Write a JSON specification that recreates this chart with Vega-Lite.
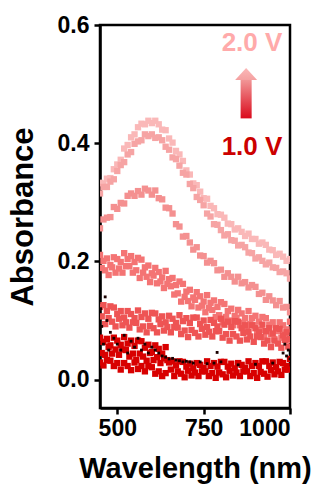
{
  "$schema": "https://vega.github.io/schema/vega-lite/v6.json",
  "width": 190,
  "height": 383,
  "autosize": {"type": "none"},
  "padding": {"left": 100, "top": 25, "right": 34, "bottom": 76},
  "background": "white",
  "config": {
    "view": {"stroke": "black", "strokeWidth": 2.5},
    "font": "Liberation Sans"
  },
  "datasets": {
    "spectra": [
      {"w":450,"a":0.333,"s":"2.0 V"},{"w":460,"a":0.332,"s":"2.0 V"},{"w":470,"a":0.340,"s":"2.0 V"},{"w":480,"a":0.341,"s":"2.0 V"},{"w":490,"a":0.356,"s":"2.0 V"},{"w":500,"a":0.364,"s":"2.0 V"},{"w":510,"a":0.372,"s":"2.0 V"},{"w":520,"a":0.391,"s":"2.0 V"},{"w":530,"a":0.397,"s":"2.0 V"},{"w":540,"a":0.410,"s":"2.0 V"},{"w":550,"a":0.415,"s":"2.0 V"},{"w":560,"a":0.427,"s":"2.0 V"},{"w":570,"a":0.433,"s":"2.0 V"},{"w":580,"a":0.432,"s":"2.0 V"},{"w":590,"a":0.438,"s":"2.0 V"},{"w":600,"a":0.434,"s":"2.0 V"},{"w":610,"a":0.438,"s":"2.0 V"},{"w":620,"a":0.432,"s":"2.0 V"},{"w":630,"a":0.423,"s":"2.0 V"},{"w":640,"a":0.422,"s":"2.0 V"},{"w":650,"a":0.408,"s":"2.0 V"},{"w":660,"a":0.401,"s":"2.0 V"},{"w":670,"a":0.387,"s":"2.0 V"},{"w":680,"a":0.381,"s":"2.0 V"},{"w":690,"a":0.370,"s":"2.0 V"},{"w":700,"a":0.354,"s":"2.0 V"},{"w":710,"a":0.347,"s":"2.0 V"},{"w":720,"a":0.332,"s":"2.0 V"},{"w":730,"a":0.329,"s":"2.0 V"},{"w":740,"a":0.318,"s":"2.0 V"},{"w":750,"a":0.307,"s":"2.0 V"},{"w":760,"a":0.306,"s":"2.0 V"},{"w":770,"a":0.294,"s":"2.0 V"},{"w":780,"a":0.290,"s":"2.0 V"},{"w":790,"a":0.280,"s":"2.0 V"},{"w":800,"a":0.279,"s":"2.0 V"},{"w":810,"a":0.274,"s":"2.0 V"},{"w":820,"a":0.264,"s":"2.0 V"},{"w":830,"a":0.263,"s":"2.0 V"},{"w":840,"a":0.254,"s":"2.0 V"},{"w":850,"a":0.256,"s":"2.0 V"},{"w":860,"a":0.250,"s":"2.0 V"},{"w":870,"a":0.243,"s":"2.0 V"},{"w":880,"a":0.247,"s":"2.0 V"},{"w":890,"a":0.238,"s":"2.0 V"},{"w":900,"a":0.238,"s":"2.0 V"},{"w":910,"a":0.230,"s":"2.0 V"},{"w":920,"a":0.232,"s":"2.0 V"},{"w":930,"a":0.228,"s":"2.0 V"},{"w":940,"a":0.220,"s":"2.0 V"},{"w":950,"a":0.219,"s":"2.0 V"},{"w":960,"a":0.211,"s":"2.0 V"},{"w":970,"a":0.213,"s":"2.0 V"},{"w":980,"a":0.208,"s":"2.0 V"},{"w":990,"a":0.201,"s":"2.0 V"},{"w":1000,"a":0.204,"s":"2.0 V"},

      {"w":450,"a":0.315,"s":"1.8 V"},{"w":460,"a":0.326,"s":"1.8 V"},{"w":470,"a":0.326,"s":"1.8 V"},{"w":480,"a":0.335,"s":"1.8 V"},{"w":490,"a":0.339,"s":"1.8 V"},{"w":500,"a":0.353,"s":"1.8 V"},{"w":510,"a":0.363,"s":"1.8 V"},{"w":520,"a":0.368,"s":"1.8 V"},{"w":530,"a":0.381,"s":"1.8 V"},{"w":540,"a":0.385,"s":"1.8 V"},{"w":550,"a":0.399,"s":"1.8 V"},{"w":560,"a":0.403,"s":"1.8 V"},{"w":570,"a":0.405,"s":"1.8 V"},{"w":580,"a":0.415,"s":"1.8 V"},{"w":590,"a":0.412,"s":"1.8 V"},{"w":600,"a":0.415,"s":"1.8 V"},{"w":610,"a":0.409,"s":"1.8 V"},{"w":620,"a":0.410,"s":"1.8 V"},{"w":630,"a":0.405,"s":"1.8 V"},{"w":640,"a":0.394,"s":"1.8 V"},{"w":650,"a":0.389,"s":"1.8 V"},{"w":660,"a":0.376,"s":"1.8 V"},{"w":670,"a":0.373,"s":"1.8 V"},{"w":680,"a":0.362,"s":"1.8 V"},{"w":690,"a":0.350,"s":"1.8 V"},{"w":700,"a":0.347,"s":"1.8 V"},{"w":710,"a":0.331,"s":"1.8 V"},{"w":720,"a":0.324,"s":"1.8 V"},{"w":730,"a":0.309,"s":"1.8 V"},{"w":740,"a":0.304,"s":"1.8 V"},{"w":750,"a":0.295,"s":"1.8 V"},{"w":760,"a":0.281,"s":"1.8 V"},{"w":770,"a":0.276,"s":"1.8 V"},{"w":780,"a":0.263,"s":"1.8 V"},{"w":790,"a":0.262,"s":"1.8 V"},{"w":800,"a":0.253,"s":"1.8 V"},{"w":810,"a":0.244,"s":"1.8 V"},{"w":820,"a":0.246,"s":"1.8 V"},{"w":830,"a":0.236,"s":"1.8 V"},{"w":840,"a":0.235,"s":"1.8 V"},{"w":850,"a":0.227,"s":"1.8 V"},{"w":860,"a":0.228,"s":"1.8 V"},{"w":870,"a":0.224,"s":"1.8 V"},{"w":880,"a":0.215,"s":"1.8 V"},{"w":890,"a":0.214,"s":"1.8 V"},{"w":900,"a":0.205,"s":"1.8 V"},{"w":910,"a":0.207,"s":"1.8 V"},{"w":920,"a":0.201,"s":"1.8 V"},{"w":930,"a":0.195,"s":"1.8 V"},{"w":940,"a":0.198,"s":"1.8 V"},{"w":950,"a":0.190,"s":"1.8 V"},{"w":960,"a":0.189,"s":"1.8 V"},{"w":970,"a":0.182,"s":"1.8 V"},{"w":980,"a":0.183,"s":"1.8 V"},{"w":990,"a":0.180,"s":"1.8 V"},{"w":1000,"a":0.171,"s":"1.8 V"},

      {"w":450,"a":0.256,"s":"1.6 V"},{"w":460,"a":0.271,"s":"1.6 V"},{"w":470,"a":0.274,"s":"1.6 V"},{"w":480,"a":0.275,"s":"1.6 V"},{"w":490,"a":0.292,"s":"1.6 V"},{"w":500,"a":0.289,"s":"1.6 V"},{"w":510,"a":0.299,"s":"1.6 V"},{"w":520,"a":0.298,"s":"1.6 V"},{"w":530,"a":0.311,"s":"1.6 V"},{"w":540,"a":0.315,"s":"1.6 V"},{"w":550,"a":0.311,"s":"1.6 V"},{"w":560,"a":0.319,"s":"1.6 V"},{"w":570,"a":0.313,"s":"1.6 V"},{"w":580,"a":0.323,"s":"1.6 V"},{"w":590,"a":0.320,"s":"1.6 V"},{"w":600,"a":0.313,"s":"1.6 V"},{"w":610,"a":0.320,"s":"1.6 V"},{"w":620,"a":0.307,"s":"1.6 V"},{"w":630,"a":0.305,"s":"1.6 V"},{"w":640,"a":0.291,"s":"1.6 V"},{"w":650,"a":0.290,"s":"1.6 V"},{"w":660,"a":0.281,"s":"1.6 V"},{"w":670,"a":0.263,"s":"1.6 V"},{"w":680,"a":0.259,"s":"1.6 V"},{"w":690,"a":0.242,"s":"1.6 V"},{"w":700,"a":0.243,"s":"1.6 V"},{"w":710,"a":0.232,"s":"1.6 V"},{"w":720,"a":0.220,"s":"1.6 V"},{"w":730,"a":0.224,"s":"1.6 V"},{"w":740,"a":0.210,"s":"1.6 V"},{"w":750,"a":0.209,"s":"1.6 V"},{"w":760,"a":0.198,"s":"1.6 V"},{"w":770,"a":0.201,"s":"1.6 V"},{"w":780,"a":0.197,"s":"1.6 V"},{"w":790,"a":0.185,"s":"1.6 V"},{"w":800,"a":0.186,"s":"1.6 V"},{"w":810,"a":0.174,"s":"1.6 V"},{"w":820,"a":0.180,"s":"1.6 V"},{"w":830,"a":0.174,"s":"1.6 V"},{"w":840,"a":0.166,"s":"1.6 V"},{"w":850,"a":0.174,"s":"1.6 V"},{"w":860,"a":0.163,"s":"1.6 V"},{"w":870,"a":0.165,"s":"1.6 V"},{"w":880,"a":0.156,"s":"1.6 V"},{"w":890,"a":0.160,"s":"1.6 V"},{"w":900,"a":0.157,"s":"1.6 V"},{"w":910,"a":0.145,"s":"1.6 V"},{"w":920,"a":0.147,"s":"1.6 V"},{"w":930,"a":0.135,"s":"1.6 V"},{"w":940,"a":0.141,"s":"1.6 V"},{"w":950,"a":0.134,"s":"1.6 V"},{"w":960,"a":0.126,"s":"1.6 V"},{"w":970,"a":0.133,"s":"1.6 V"},{"w":980,"a":0.122,"s":"1.6 V"},{"w":990,"a":0.123,"s":"1.6 V"},{"w":1000,"a":0.114,"s":"1.6 V"},

      {"w":450,"a":0.211,"s":"1.4 V"},{"w":460,"a":0.201,"s":"1.4 V"},{"w":470,"a":0.205,"s":"1.4 V"},{"w":480,"a":0.194,"s":"1.4 V"},{"w":490,"a":0.207,"s":"1.4 V"},{"w":500,"a":0.204,"s":"1.4 V"},{"w":510,"a":0.199,"s":"1.4 V"},{"w":520,"a":0.214,"s":"1.4 V"},{"w":530,"a":0.204,"s":"1.4 V"},{"w":540,"a":0.209,"s":"1.4 V"},{"w":550,"a":0.199,"s":"1.4 V"},{"w":560,"a":0.206,"s":"1.4 V"},{"w":570,"a":0.203,"s":"1.4 V"},{"w":580,"a":0.190,"s":"1.4 V"},{"w":590,"a":0.193,"s":"1.4 V"},{"w":600,"a":0.180,"s":"1.4 V"},{"w":610,"a":0.189,"s":"1.4 V"},{"w":620,"a":0.182,"s":"1.4 V"},{"w":630,"a":0.173,"s":"1.4 V"},{"w":640,"a":0.184,"s":"1.4 V"},{"w":650,"a":0.170,"s":"1.4 V"},{"w":660,"a":0.172,"s":"1.4 V"},{"w":670,"a":0.160,"s":"1.4 V"},{"w":680,"a":0.166,"s":"1.4 V"},{"w":690,"a":0.162,"s":"1.4 V"},{"w":700,"a":0.149,"s":"1.4 V"},{"w":710,"a":0.152,"s":"1.4 V"},{"w":720,"a":0.139,"s":"1.4 V"},{"w":730,"a":0.148,"s":"1.4 V"},{"w":740,"a":0.141,"s":"1.4 V"},{"w":750,"a":0.132,"s":"1.4 V"},{"w":760,"a":0.143,"s":"1.4 V"},{"w":770,"a":0.130,"s":"1.4 V"},{"w":780,"a":0.134,"s":"1.4 V"},{"w":790,"a":0.123,"s":"1.4 V"},{"w":800,"a":0.131,"s":"1.4 V"},{"w":810,"a":0.128,"s":"1.4 V"},{"w":820,"a":0.116,"s":"1.4 V"},{"w":830,"a":0.120,"s":"1.4 V"},{"w":840,"a":0.108,"s":"1.4 V"},{"w":850,"a":0.118,"s":"1.4 V"},{"w":860,"a":0.112,"s":"1.4 V"},{"w":870,"a":0.104,"s":"1.4 V"},{"w":880,"a":0.116,"s":"1.4 V"},{"w":890,"a":0.104,"s":"1.4 V"},{"w":900,"a":0.108,"s":"1.4 V"},{"w":910,"a":0.098,"s":"1.4 V"},{"w":920,"a":0.106,"s":"1.4 V"},{"w":930,"a":0.104,"s":"1.4 V"},{"w":940,"a":0.093,"s":"1.4 V"},{"w":950,"a":0.097,"s":"1.4 V"},{"w":960,"a":0.086,"s":"1.4 V"},{"w":970,"a":0.097,"s":"1.4 V"},{"w":980,"a":0.092,"s":"1.4 V"},{"w":990,"a":0.085,"s":"1.4 V"},{"w":1000,"a":0.098,"s":"1.4 V"},
      {"w":455,"a":0.189,"s":"1.4 V"},{"w":465,"a":0.185,"s":"1.4 V"},{"w":475,"a":0.177,"s":"1.4 V"},{"w":485,"a":0.190,"s":"1.4 V"},{"w":495,"a":0.181,"s":"1.4 V"},{"w":505,"a":0.188,"s":"1.4 V"},{"w":515,"a":0.181,"s":"1.4 V"},{"w":525,"a":0.192,"s":"1.4 V"},{"w":535,"a":0.192,"s":"1.4 V"},{"w":545,"a":0.181,"s":"1.4 V"},{"w":555,"a":0.185,"s":"1.4 V"},{"w":565,"a":0.172,"s":"1.4 V"},{"w":575,"a":0.181,"s":"1.4 V"},{"w":585,"a":0.174,"s":"1.4 V"},{"w":595,"a":0.165,"s":"1.4 V"},{"w":605,"a":0.176,"s":"1.4 V"},{"w":615,"a":0.163,"s":"1.4 V"},{"w":625,"a":0.166,"s":"1.4 V"},{"w":635,"a":0.155,"s":"1.4 V"},{"w":645,"a":0.162,"s":"1.4 V"},{"w":655,"a":0.158,"s":"1.4 V"},{"w":665,"a":0.144,"s":"1.4 V"},{"w":675,"a":0.146,"s":"1.4 V"},{"w":685,"a":0.132,"s":"1.4 V"},{"w":695,"a":0.140,"s":"1.4 V"},{"w":705,"a":0.133,"s":"1.4 V"},{"w":715,"a":0.124,"s":"1.4 V"},{"w":725,"a":0.135,"s":"1.4 V"},{"w":735,"a":0.122,"s":"1.4 V"},{"w":745,"a":0.125,"s":"1.4 V"},{"w":755,"a":0.114,"s":"1.4 V"},{"w":765,"a":0.121,"s":"1.4 V"},{"w":775,"a":0.118,"s":"1.4 V"},{"w":785,"a":0.106,"s":"1.4 V"},{"w":795,"a":0.109,"s":"1.4 V"},{"w":805,"a":0.097,"s":"1.4 V"},{"w":815,"a":0.106,"s":"1.4 V"},{"w":825,"a":0.100,"s":"1.4 V"},{"w":835,"a":0.092,"s":"1.4 V"},{"w":845,"a":0.104,"s":"1.4 V"},{"w":855,"a":0.092,"s":"1.4 V"},{"w":865,"a":0.096,"s":"1.4 V"},{"w":875,"a":0.086,"s":"1.4 V"},{"w":885,"a":0.094,"s":"1.4 V"},{"w":895,"a":0.092,"s":"1.4 V"},{"w":905,"a":0.080,"s":"1.4 V"},{"w":915,"a":0.084,"s":"1.4 V"},{"w":925,"a":0.072,"s":"1.4 V"},{"w":935,"a":0.082,"s":"1.4 V"},{"w":945,"a":0.077,"s":"1.4 V"},{"w":955,"a":0.069,"s":"1.4 V"},{"w":965,"a":0.082,"s":"1.4 V"},{"w":975,"a":0.071,"s":"1.4 V"},{"w":985,"a":0.076,"s":"1.4 V"},{"w":995,"a":0.067,"s":"1.4 V"},

      {"w":450,"a":0.123,"s":"1.2 V"},{"w":460,"a":0.126,"s":"1.2 V"},{"w":470,"a":0.116,"s":"1.2 V"},{"w":480,"a":0.124,"s":"1.2 V"},{"w":490,"a":0.122,"s":"1.2 V"},{"w":500,"a":0.111,"s":"1.2 V"},{"w":510,"a":0.116,"s":"1.2 V"},{"w":520,"a":0.105,"s":"1.2 V"},{"w":530,"a":0.116,"s":"1.2 V"},{"w":540,"a":0.111,"s":"1.2 V"},{"w":550,"a":0.104,"s":"1.2 V"},{"w":560,"a":0.117,"s":"1.2 V"},{"w":570,"a":0.106,"s":"1.2 V"},{"w":580,"a":0.112,"s":"1.2 V"},{"w":590,"a":0.103,"s":"1.2 V"},{"w":600,"a":0.113,"s":"1.2 V"},{"w":610,"a":0.112,"s":"1.2 V"},{"w":620,"a":0.102,"s":"1.2 V"},{"w":630,"a":0.107,"s":"1.2 V"},{"w":640,"a":0.097,"s":"1.2 V"},{"w":650,"a":0.108,"s":"1.2 V"},{"w":660,"a":0.103,"s":"1.2 V"},{"w":670,"a":0.096,"s":"1.2 V"},{"w":680,"a":0.109,"s":"1.2 V"},{"w":690,"a":0.099,"s":"1.2 V"},{"w":700,"a":0.104,"s":"1.2 V"},{"w":710,"a":0.096,"s":"1.2 V"},{"w":720,"a":0.105,"s":"1.2 V"},{"w":730,"a":0.105,"s":"1.2 V"},{"w":740,"a":0.094,"s":"1.2 V"},{"w":750,"a":0.100,"s":"1.2 V"},{"w":760,"a":0.089,"s":"1.2 V"},{"w":770,"a":0.101,"s":"1.2 V"},{"w":780,"a":0.096,"s":"1.2 V"},{"w":790,"a":0.090,"s":"1.2 V"},{"w":800,"a":0.103,"s":"1.2 V"},{"w":810,"a":0.093,"s":"1.2 V"},{"w":820,"a":0.098,"s":"1.2 V"},{"w":830,"a":0.089,"s":"1.2 V"},{"w":840,"a":0.099,"s":"1.2 V"},{"w":850,"a":0.098,"s":"1.2 V"},{"w":860,"a":0.087,"s":"1.2 V"},{"w":870,"a":0.092,"s":"1.2 V"},{"w":880,"a":0.081,"s":"1.2 V"},{"w":890,"a":0.092,"s":"1.2 V"},{"w":900,"a":0.087,"s":"1.2 V"},{"w":910,"a":0.080,"s":"1.2 V"},{"w":920,"a":0.093,"s":"1.2 V"},{"w":930,"a":0.082,"s":"1.2 V"},{"w":940,"a":0.087,"s":"1.2 V"},{"w":950,"a":0.078,"s":"1.2 V"},{"w":960,"a":0.087,"s":"1.2 V"},{"w":970,"a":0.086,"s":"1.2 V"},{"w":980,"a":0.075,"s":"1.2 V"},{"w":990,"a":0.080,"s":"1.2 V"},{"w":1000,"a":0.069,"s":"1.2 V"},
      {"w":455,"a":0.107,"s":"1.2 V"},{"w":465,"a":0.094,"s":"1.2 V"},{"w":475,"a":0.104,"s":"1.2 V"},{"w":485,"a":0.098,"s":"1.2 V"},{"w":495,"a":0.090,"s":"1.2 V"},{"w":505,"a":0.103,"s":"1.2 V"},{"w":515,"a":0.092,"s":"1.2 V"},{"w":525,"a":0.097,"s":"1.2 V"},{"w":535,"a":0.088,"s":"1.2 V"},{"w":545,"a":0.097,"s":"1.2 V"},{"w":555,"a":0.096,"s":"1.2 V"},{"w":565,"a":0.085,"s":"1.2 V"},{"w":575,"a":0.090,"s":"1.2 V"},{"w":585,"a":0.080,"s":"1.2 V"},{"w":595,"a":0.091,"s":"1.2 V"},{"w":605,"a":0.087,"s":"1.2 V"},{"w":615,"a":0.080,"s":"1.2 V"},{"w":625,"a":0.094,"s":"1.2 V"},{"w":635,"a":0.083,"s":"1.2 V"},{"w":645,"a":0.089,"s":"1.2 V"},{"w":655,"a":0.080,"s":"1.2 V"},{"w":665,"a":0.089,"s":"1.2 V"},{"w":675,"a":0.088,"s":"1.2 V"},{"w":685,"a":0.077,"s":"1.2 V"},{"w":695,"a":0.083,"s":"1.2 V"},{"w":705,"a":0.072,"s":"1.2 V"},{"w":715,"a":0.084,"s":"1.2 V"},{"w":725,"a":0.079,"s":"1.2 V"},{"w":735,"a":0.073,"s":"1.2 V"},{"w":745,"a":0.086,"s":"1.2 V"},{"w":755,"a":0.076,"s":"1.2 V"},{"w":765,"a":0.081,"s":"1.2 V"},{"w":775,"a":0.073,"s":"1.2 V"},{"w":785,"a":0.082,"s":"1.2 V"},{"w":795,"a":0.082,"s":"1.2 V"},{"w":805,"a":0.071,"s":"1.2 V"},{"w":815,"a":0.077,"s":"1.2 V"},{"w":825,"a":0.066,"s":"1.2 V"},{"w":835,"a":0.077,"s":"1.2 V"},{"w":845,"a":0.073,"s":"1.2 V"},{"w":855,"a":0.066,"s":"1.2 V"},{"w":865,"a":0.079,"s":"1.2 V"},{"w":875,"a":0.068,"s":"1.2 V"},{"w":885,"a":0.073,"s":"1.2 V"},{"w":895,"a":0.064,"s":"1.2 V"},{"w":905,"a":0.073,"s":"1.2 V"},{"w":915,"a":0.072,"s":"1.2 V"},{"w":925,"a":0.061,"s":"1.2 V"},{"w":935,"a":0.066,"s":"1.2 V"},{"w":945,"a":0.055,"s":"1.2 V"},{"w":955,"a":0.066,"s":"1.2 V"},{"w":965,"a":0.061,"s":"1.2 V"},{"w":975,"a":0.054,"s":"1.2 V"},{"w":985,"a":0.067,"s":"1.2 V"},{"w":995,"a":0.056,"s":"1.2 V"},

      {"w":450,"a":0.071,"s":"1.0 V"},{"w":460,"a":0.064,"s":"1.0 V"},{"w":470,"a":0.069,"s":"1.0 V"},{"w":480,"a":0.058,"s":"1.0 V"},{"w":490,"a":0.071,"s":"1.0 V"},{"w":500,"a":0.066,"s":"1.0 V"},{"w":510,"a":0.059,"s":"1.0 V"},{"w":520,"a":0.072,"s":"1.0 V"},{"w":530,"a":0.061,"s":"1.0 V"},{"w":540,"a":0.066,"s":"1.0 V"},{"w":550,"a":0.057,"s":"1.0 V"},{"w":560,"a":0.066,"s":"1.0 V"},{"w":570,"a":0.065,"s":"1.0 V"},{"w":580,"a":0.054,"s":"1.0 V"},{"w":590,"a":0.059,"s":"1.0 V"},{"w":600,"a":0.047,"s":"1.0 V"},{"w":610,"a":0.058,"s":"1.0 V"},{"w":620,"a":0.052,"s":"1.0 V"},{"w":630,"a":0.044,"s":"1.0 V"},{"w":640,"a":0.055,"s":"1.0 V"},
      {"w":455,"a":0.045,"s":"1.0 V"},{"w":465,"a":0.042,"s":"1.0 V"},{"w":475,"a":0.055,"s":"1.0 V"},{"w":485,"a":0.044,"s":"1.0 V"},{"w":495,"a":0.051,"s":"1.0 V"},{"w":505,"a":0.042,"s":"1.0 V"},{"w":515,"a":0.051,"s":"1.0 V"},{"w":525,"a":0.050,"s":"1.0 V"},{"w":535,"a":0.039,"s":"1.0 V"},{"w":545,"a":0.044,"s":"1.0 V"},{"w":555,"a":0.033,"s":"1.0 V"},{"w":565,"a":0.044,"s":"1.0 V"},{"w":575,"a":0.039,"s":"1.0 V"},{"w":585,"a":0.032,"s":"1.0 V"},{"w":595,"a":0.045,"s":"1.0 V"},{"w":605,"a":0.033,"s":"1.0 V"},{"w":615,"a":0.038,"s":"1.0 V"},{"w":625,"a":0.028,"s":"1.0 V"},{"w":635,"a":0.036,"s":"1.0 V"},{"w":645,"a":0.033,"s":"1.0 V"},
      {"w":450,"a":0.029,"s":"1.0 V"},{"w":460,"a":0.024,"s":"1.0 V"},{"w":470,"a":0.033,"s":"1.0 V"},{"w":480,"a":0.032,"s":"1.0 V"},{"w":490,"a":0.023,"s":"1.0 V"},{"w":500,"a":0.028,"s":"1.0 V"},{"w":510,"a":0.017,"s":"1.0 V"},{"w":520,"a":0.028,"s":"1.0 V"},{"w":530,"a":0.023,"s":"1.0 V"},{"w":540,"a":0.016,"s":"1.0 V"},{"w":550,"a":0.029,"s":"1.0 V"},{"w":560,"a":0.018,"s":"1.0 V"},{"w":570,"a":0.023,"s":"1.0 V"},{"w":580,"a":0.014,"s":"1.0 V"},{"w":590,"a":0.023,"s":"1.0 V"},{"w":600,"a":0.021,"s":"1.0 V"},{"w":610,"a":0.010,"s":"1.0 V"},{"w":620,"a":0.014,"s":"1.0 V"},{"w":630,"a":0.006,"s":"1.0 V"},{"w":640,"a":0.011,"s":"1.0 V"},
      {"w":650,"a":0.029,"s":"1.0 V"},{"w":660,"a":0.031,"s":"1.0 V"},{"w":670,"a":0.024,"s":"1.0 V"},{"w":680,"a":0.031,"s":"1.0 V"},{"w":690,"a":0.030,"s":"1.0 V"},{"w":700,"a":0.022,"s":"1.0 V"},{"w":710,"a":0.027,"s":"1.0 V"},{"w":720,"a":0.019,"s":"1.0 V"},{"w":730,"a":0.028,"s":"1.0 V"},{"w":740,"a":0.025,"s":"1.0 V"},{"w":750,"a":0.020,"s":"1.0 V"},{"w":760,"a":0.031,"s":"1.0 V"},{"w":770,"a":0.023,"s":"1.0 V"},{"w":780,"a":0.028,"s":"1.0 V"},{"w":790,"a":0.022,"s":"1.0 V"},{"w":800,"a":0.030,"s":"1.0 V"},{"w":810,"a":0.030,"s":"1.0 V"},{"w":820,"a":0.022,"s":"1.0 V"},{"w":830,"a":0.027,"s":"1.0 V"},{"w":840,"a":0.019,"s":"1.0 V"},{"w":850,"a":0.028,"s":"1.0 V"},{"w":860,"a":0.025,"s":"1.0 V"},{"w":870,"a":0.020,"s":"1.0 V"},{"w":880,"a":0.031,"s":"1.0 V"},{"w":890,"a":0.023,"s":"1.0 V"},{"w":900,"a":0.028,"s":"1.0 V"},{"w":910,"a":0.023,"s":"1.0 V"},{"w":920,"a":0.031,"s":"1.0 V"},{"w":930,"a":0.031,"s":"1.0 V"},{"w":940,"a":0.023,"s":"1.0 V"},{"w":950,"a":0.029,"s":"1.0 V"},{"w":960,"a":0.021,"s":"1.0 V"},{"w":970,"a":0.030,"s":"1.0 V"},{"w":980,"a":0.028,"s":"1.0 V"},{"w":990,"a":0.023,"s":"1.0 V"},{"w":1000,"a":0.035,"s":"1.0 V"},
      {"w":655,"a":0.017,"s":"1.0 V"},{"w":665,"a":0.006,"s":"1.0 V"},{"w":675,"a":0.014,"s":"1.0 V"},{"w":685,"a":0.010,"s":"1.0 V"},{"w":695,"a":0.004,"s":"1.0 V"},{"w":705,"a":0.015,"s":"1.0 V"},{"w":715,"a":0.007,"s":"1.0 V"},{"w":725,"a":0.012,"s":"1.0 V"},{"w":735,"a":0.006,"s":"1.0 V"},{"w":745,"a":0.014,"s":"1.0 V"},{"w":755,"a":0.014,"s":"1.0 V"},{"w":765,"a":0.006,"s":"1.0 V"},{"w":775,"a":0.011,"s":"1.0 V"},{"w":785,"a":0.003,"s":"1.0 V"},{"w":795,"a":0.012,"s":"1.0 V"},{"w":805,"a":0.009,"s":"1.0 V"},{"w":815,"a":0.004,"s":"1.0 V"},{"w":825,"a":0.015,"s":"1.0 V"},{"w":835,"a":0.007,"s":"1.0 V"},{"w":845,"a":0.012,"s":"1.0 V"},{"w":855,"a":0.006,"s":"1.0 V"},{"w":865,"a":0.014,"s":"1.0 V"},{"w":875,"a":0.014,"s":"1.0 V"},{"w":885,"a":0.006,"s":"1.0 V"},{"w":895,"a":0.011,"s":"1.0 V"},{"w":905,"a":0.003,"s":"1.0 V"},{"w":915,"a":0.013,"s":"1.0 V"},{"w":925,"a":0.010,"s":"1.0 V"},{"w":935,"a":0.005,"s":"1.0 V"},{"w":945,"a":0.016,"s":"1.0 V"},{"w":955,"a":0.009,"s":"1.0 V"},{"w":965,"a":0.014,"s":"1.0 V"},{"w":975,"a":0.008,"s":"1.0 V"},{"w":985,"a":0.017,"s":"1.0 V"},{"w":995,"a":0.017,"s":"1.0 V"},

      {"w":452,"a":0.120,"s":"0 V"},{"w":455,"a":0.090,"s":"0 V"},{"w":460,"a":0.060,"s":"0 V"},{"w":465,"a":0.140,"s":"0 V"},{"w":470,"a":0.100,"s":"0 V"},{"w":475,"a":0.050,"s":"0 V"},{"w":480,"a":0.080,"s":"0 V"},{"w":490,"a":0.070,"s":"0 V"},{"w":500,"a":0.060,"s":"0 V"},{"w":510,"a":0.050,"s":"0 V"},{"w":520,"a":0.075,"s":"0 V"},{"w":530,"a":0.045,"s":"0 V"},{"w":540,"a":0.065,"s":"0 V"},{"w":550,"a":0.055,"s":"0 V"},{"w":560,"a":0.070,"s":"0 V"},{"w":570,"a":0.050,"s":"0 V"},{"w":580,"a":0.060,"s":"0 V"},{"w":590,"a":0.045,"s":"0 V"},{"w":600,"a":0.055,"s":"0 V"},{"w":610,"a":0.050,"s":"0 V"},{"w":620,"a":0.045,"s":"0 V"},{"w":630,"a":0.040,"s":"0 V"},{"w":640,"a":0.038,"s":"0 V"},{"w":650,"a":0.035,"s":"0 V"},{"w":660,"a":0.036,"s":"0 V"},{"w":670,"a":0.033,"s":"0 V"},{"w":680,"a":0.032,"s":"0 V"},{"w":690,"a":0.030,"s":"0 V"},{"w":700,"a":0.031,"s":"0 V"},{"w":710,"a":0.030,"s":"0 V"},{"w":720,"a":0.028,"s":"0 V"},{"w":740,"a":0.030,"s":"0 V"},{"w":760,"a":0.027,"s":"0 V"},{"w":780,"a":0.028,"s":"0 V"},{"w":789,"a":0.046,"s":"0 V"},{"w":800,"a":0.030,"s":"0 V"},{"w":850,"a":0.025,"s":"0 V"},{"w":900,"a":0.026,"s":"0 V"},{"w":950,"a":0.028,"s":"0 V"},{"w":980,"a":0.045,"s":"0 V"},{"w":985,"a":0.060,"s":"0 V"},{"w":990,"a":0.040,"s":"0 V"},{"w":995,"a":0.050,"s":"0 V"},{"w":1000,"a":0.035,"s":"0 V"}
    ]
  },
  "layer": [
    {
      "data": {"name": "spectra"},
      "mark": {"type": "point", "filled": true, "shape": "square", "opacity": 1, "clip": true},
      "encoding": {
        "x": {
          "field": "w", "type": "quantitative",
          "scale": {"domain": [450, 1000], "nice": false, "zero": false},
          "axis": {
            "title": "Wavelength (nm)", "values": [500, 750, 1000], "format": "d", "grid": false,
            "domainColor": "black", "domainWidth": 2.5, "tickColor": "black", "tickWidth": 2.5, "tickSize": 6,
            "labelFont": "Liberation Sans", "labelFontWeight": "bold", "labelFontSize": 23, "labelColor": "black", "labelPadding": 3,
            "titleFont": "Liberation Sans", "titleFontWeight": "bold", "titleFontSize": 29, "titleColor": "black", "titlePadding": 14
          }
        },
        "y": {
          "field": "a", "type": "quantitative",
          "scale": {"domain": [-0.048, 0.6], "nice": false, "zero": false},
          "axis": {
            "title": "Absorbance", "values": [0, 0.2, 0.4, 0.6], "format": ".1f", "grid": false,
            "domainColor": "black", "domainWidth": 2.5, "tickColor": "black", "tickWidth": 2.5, "tickSize": 6,
            "labelFont": "Liberation Sans", "labelFontWeight": "bold", "labelFontSize": 23, "labelColor": "black", "labelPadding": 5,
            "titleFont": "Liberation Sans", "titleFontWeight": "bold", "titleFontSize": 31, "titleColor": "black", "titlePadding": 18
          }
        },
        "color": {
          "field": "s", "type": "nominal", "legend": null,
          "scale": {
            "domain": ["2.0 V", "1.8 V", "1.6 V", "1.4 V", "1.2 V", "1.0 V", "0 V"],
            "range": ["#FAB8B8", "#F6A4A4", "#F49090", "#F47474", "#EE5454", "#D80000", "#1A0000"]
          }
        },
        "size": {
          "condition": {"test": "datum.s === '0 V'", "value": 8},
          "value": 40
        }
      }
    },
    {
      "data": {"values": [{"x1": 857, "x2": 889, "y1": 0.442, "y2": 0.509}]},
      "mark": {
        "type": "rect",
        "color": {"gradient": "linear", "x1": 0, "y1": 1, "x2": 0, "y2": 0,
          "stops": [{"offset": 0, "color": "#DA0A1C"}, {"offset": 1, "color": "#F29A9A"}]}
      },
      "encoding": {
        "x": {"field": "x1", "type": "quantitative"},
        "x2": {"field": "x2"},
        "y": {"field": "y1", "type": "quantitative"},
        "y2": {"field": "y2"}
      }
    },
    {
      "data": {"values": [{"x": 873, "y": 0.517}]},
      "mark": {"type": "point", "filled": true, "opacity": 1, "size": 484, "shape": "M-1,0.55L0,-0.55L1,0.55Z",
        "color": {"gradient": "linear", "x1": 0, "y1": 1, "x2": 0, "y2": 0,
          "stops": [{"offset": 0, "color": "#F4A0A0"}, {"offset": 1, "color": "#FBB8B8"}]}},
      "encoding": {
        "x": {"field": "x", "type": "quantitative"},
        "y": {"field": "y", "type": "quantitative"}
      }
    },
    {
      "data": {"values": [{"x": 890, "y": 0.569, "t": "2.0 V", "c": "#FFAAAA"}, {"x": 890, "y": 0.393, "t": "1.0 V", "c": "#CC0000"}]},
      "mark": {"type": "text", "font": "Liberation Sans", "fontWeight": "bold", "fontSize": 26, "align": "center", "baseline": "middle"},
      "encoding": {
        "x": {"field": "x", "type": "quantitative"},
        "y": {"field": "y", "type": "quantitative"},
        "text": {"field": "t"},
        "color": {"field": "c", "type": "nominal", "scale": null}
      }
    }
  ]
}
